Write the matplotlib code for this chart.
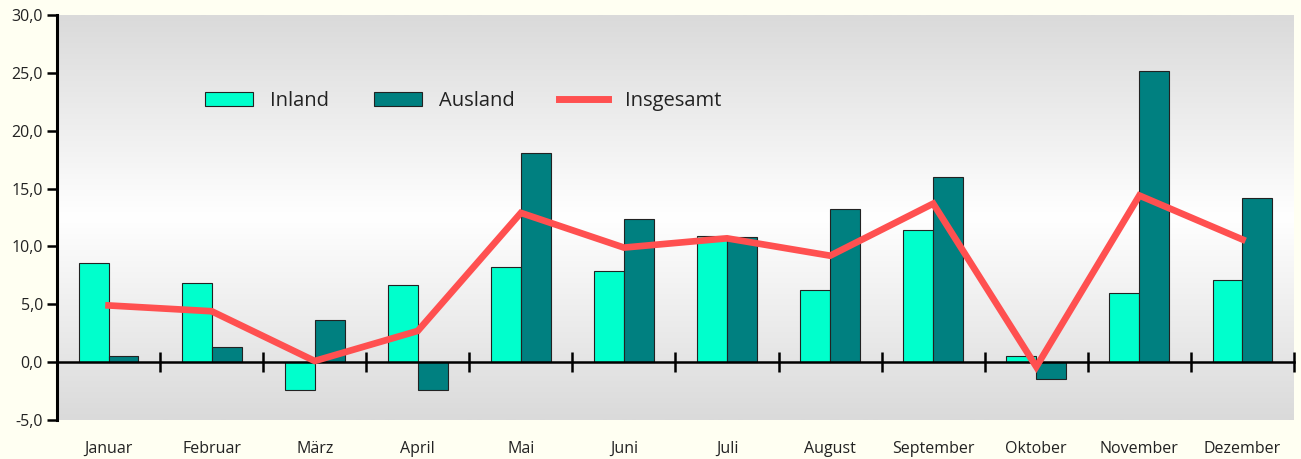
import numpy as np
import matplotlib
matplotlib.use("Agg")
import matplotlib.pyplot as plt
from matplotlib.ticker import FuncFormatter, FixedLocator
from matplotlib.colors import LinearSegmentedColormap
from matplotlib.patches import Patch
from matplotlib.lines import Line2D

plt.rcParams['font.family'] = ['Open Sans', 'DejaVu Sans']

months = ['Januar', 'Februar', 'März', 'April', 'Mai', 'Juni', 'Juli',
          'August', 'September', 'Oktober', 'November', 'Dezember']
inland = [8.6, 6.8, -2.4, 6.7, 8.2, 7.9, 10.9, 6.2, 11.4, 0.5, 6.0, 7.1]
ausland = [0.5, 1.3, 3.6, -2.4, 18.1, 12.4, 10.8, 13.2, 16.0, -1.5, 25.2, 14.2]
insgesamt = [4.9, 4.4, 0.1, 2.7, 12.9, 9.9, 10.7, 9.2, 13.7, -0.4, 14.4, 10.6]
y_ticks = [-5, 0, 5, 10, 15, 20, 25, 30]

c_inland = '#00FFCC'
c_ausland = '#008080'
c_line = '#FF5050'

fig = plt.figure(figsize=(13.01, 4.59), dpi=100)
fig.patch.set_facecolor('#FFFFF2')
ax = fig.add_axes([57 / 1301, 1 - 420 / 459, (1294 - 57) / 1301, (420 - 15) / 459])

n = len(months)
x = np.arange(n) + 0.5
w = 0.29

# gradient background: grey at the edges, white in the middle
cmap = LinearSegmentedColormap.from_list('bg', ['#DADADA', '#FFFFFF', '#DADADA'])
grad = np.linspace(0, 1, 256).reshape(-1, 1)
ax.imshow(grad, aspect='auto', cmap=cmap, extent=[0, n, -5, 30], zorder=0)

ax.bar(x - w / 2, inland, width=w, color=c_inland, edgecolor='#222222', linewidth=0.8, zorder=2)
ax.bar(x + w / 2, ausland, width=w, color=c_ausland, edgecolor='#222222', linewidth=0.8, zorder=2)
ax.plot(x, insgesamt, color=c_line, linewidth=4.8, solid_joinstyle='miter', zorder=4)

ax.set_xlim(0, n)
ax.set_ylim(-5, 30)

ax.spines['top'].set_visible(False)
ax.spines['right'].set_visible(False)
ax.spines['left'].set_linewidth(2.2)
ax.spines['bottom'].set_position(('data', 0))
ax.spines['bottom'].set_linewidth(1.8)
ax.spines['bottom'].set_zorder(3)

ax.yaxis.set_major_locator(FixedLocator(y_ticks))
ax.yaxis.set_major_formatter(FuncFormatter(lambda v, p: f"{v:.1f}".replace('.', ',')))
ax.tick_params(axis='y', direction='out', length=7, width=1.8, labelsize=11.5,
               labelcolor='#222222', pad=3)

ax.xaxis.set_major_locator(FixedLocator(np.arange(1, n + 1)))
ax.tick_params(axis='x', direction='inout', length=14, width=1.8, labelbottom=False)

for xi, m in zip(x, months):
    ax.text(xi, -0.072, m, transform=ax.get_xaxis_transform(), ha='center', va='center',
            fontsize=11.5, color='#222222')

handles = [Patch(facecolor=c_inland, edgecolor='#222222', linewidth=0.8),
           Patch(facecolor=c_ausland, edgecolor='#222222', linewidth=0.8),
           Line2D([0], [0], color=c_line, linewidth=5)]
ax.legend(handles, ['Inland', 'Ausland', 'Insgesamt'], ncol=3, frameon=False,
          loc='center left', bbox_to_anchor=(0.1196, 0.787), fontsize=14.5,
          borderpad=0, borderaxespad=0,
          handlelength=2.4, handleheight=0.65, columnspacing=2.2, handletextpad=0.85,
          labelcolor='#222222')

fig.savefig('out.png', dpi=100, facecolor=fig.get_facecolor())
